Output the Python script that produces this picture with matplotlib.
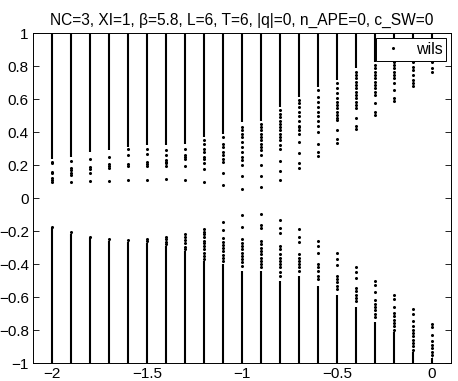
import matplotlib
matplotlib.use("Agg")
import matplotlib.pyplot as plt

plt.rcParams["font.family"] = ["Liberation Sans", "DejaVu Sans"]

# column positions (real part)
xs = [-2.0, -1.9, -1.8, -1.7, -1.6, -1.5, -1.4, -1.3, -1.2, -1.1, -1.0,
      -0.9, -0.8, -0.7, -0.6, -0.5, -0.4, -0.3, -0.2, -0.1, 0.0]

# dense band edges: upper band runs from value up to 1, lower band from -1 up to value
upper_dense = [0.24, 0.25, 0.28, 0.29, 0.31, 0.32, 0.32, 0.33, 0.37, 0.39, 0.46,
               0.47, 0.555, 0.615, 0.675, 0.716, 0.787, 0.827, 0.84, 0.85, 0.86]
lower_dense = [-0.18, -0.215, -0.24, -0.26, -0.265, -0.27, -0.29, -0.32, -0.38, -0.40, -0.44,
               -0.44, -0.50, -0.47, -0.53, -0.59, -0.66, -0.75, -0.81, -0.93, -0.97]

# isolated points per column
upper_sparse = [
    [0.22, 0.21, 0.16, 0.15, 0.12, 0.11, 0.096],
    [0.227, 0.18, 0.17, 0.155, 0.14, 0.10],
    [0.24, 0.19, 0.175, 0.155, 0.106],
    [0.25, 0.205, 0.195, 0.18, 0.106],
    [0.296, 0.26, 0.207, 0.195, 0.11],
    [0.30, 0.266, 0.217, 0.205, 0.195, 0.11],
    [0.29, 0.26, 0.23, 0.22, 0.21, 0.197, 0.116],
    [0.30, 0.26, 0.25, 0.24, 0.195, 0.11],
    [0.35, 0.33, 0.30, 0.28, 0.25, 0.24, 0.21, 0.175, 0.10],
    [0.37, 0.33, 0.31, 0.28, 0.26, 0.24, 0.22, 0.15, 0.08],
    [0.43, 0.41, 0.39, 0.37, 0.34, 0.31, 0.28, 0.25, 0.23, 0.20, 0.137, 0.056],
    [0.45, 0.43, 0.41, 0.39, 0.37, 0.35, 0.33, 0.31, 0.29, 0.26, 0.20, 0.137, 0.066],
    [0.535, 0.51, 0.49, 0.47, 0.45, 0.43, 0.41, 0.39, 0.37, 0.35, 0.32, 0.296, 0.225, 0.167, 0.11],
    [0.595, 0.575, 0.555, 0.52, 0.50, 0.47, 0.44, 0.43, 0.41, 0.39, 0.34, 0.276, 0.215, 0.18],
    [0.655, 0.615, 0.585, 0.555, 0.525, 0.50, 0.47, 0.44, 0.40, 0.33, 0.28, 0.255],
    [0.70, 0.665, 0.635, 0.605, 0.585, 0.565, 0.545, 0.525, 0.505, 0.485, 0.475, 0.41, 0.357, 0.336],
    [0.767, 0.747, 0.727, 0.706, 0.686, 0.666, 0.645, 0.625, 0.605, 0.585, 0.565, 0.545, 0.484, 0.438, 0.418],
    [0.807, 0.787, 0.767, 0.747, 0.727, 0.706, 0.686, 0.666, 0.645, 0.625, 0.575, 0.525, 0.505],
    [0.827, 0.807, 0.787, 0.767, 0.747, 0.727, 0.696, 0.656, 0.605, 0.59],
    [0.827, 0.797, 0.777, 0.747, 0.716, 0.696, 0.68],
    [0.827, 0.787, 0.767],
]
lower_sparse = [
    [-0.173],
    [-0.207],
    [-0.233],
    [-0.247],
    [-0.253],
    [-0.245, -0.257],
    [-0.237, -0.25, -0.265, -0.28],
    [-0.217, -0.233, -0.253, -0.273, -0.294, -0.31],
    [-0.189, -0.205, -0.22, -0.235, -0.26, -0.275, -0.29, -0.31, -0.33, -0.35, -0.37],
    [-0.142, -0.193, -0.243, -0.263, -0.283, -0.303, -0.323, -0.343, -0.36, -0.38],
    [-0.104, -0.173, -0.25, -0.27, -0.29, -0.31, -0.33, -0.35, -0.37, -0.39, -0.41],
    [-0.098, -0.16, -0.18, -0.26, -0.28, -0.30, -0.32, -0.34, -0.36, -0.38, -0.40, -0.42],
    [-0.132, -0.183, -0.213, -0.29, -0.31, -0.34, -0.36, -0.38, -0.40, -0.42, -0.45, -0.47],
    [-0.189, -0.233, -0.263, -0.34, -0.36, -0.38, -0.40, -0.42, -0.44],
    [-0.257, -0.293, -0.33, -0.40, -0.42, -0.44, -0.47, -0.49],
    [-0.334, -0.368, -0.405, -0.47, -0.49, -0.51, -0.53, -0.55],
    [-0.419, -0.445, -0.486, -0.545, -0.565, -0.585, -0.605, -0.625],
    [-0.502, -0.526, -0.57, -0.62, -0.64, -0.66, -0.68, -0.70, -0.72],
    [-0.587, -0.613, -0.657, -0.697, -0.717, -0.737, -0.757, -0.777, -0.797],
    [-0.673, -0.70, -0.742, -0.778, -0.798, -0.818, -0.838, -0.858, -0.878, -0.898, -0.918],
    [-0.762, -0.779, -0.829, -0.864, -0.89, -0.91, -0.93, -0.95],
]

title = "NC=3, XI=1, \u03b2=5.8, L=6, T=6, |q|=0, n_APE=0, c_SW=0"

fig = plt.figure(figsize=(4.58, 3.81), dpi=100)
ax = fig.add_axes([0.072, 0.047, 0.913, 0.866])

ax.vlines(xs, upper_dense, 1.0, colors="black", linewidth=1.5)
ax.vlines(xs, -1.0, lower_dense, colors="black", linewidth=1.5)

px, py = [], []
for x, ups, lows in zip(xs, upper_sparse, lower_sparse):
    for y in ups + lows:
        px.append(x)
        py.append(y)
ax.plot(px, py, linestyle="none", marker="o", markersize=1.2,
        color="black", label="wils")

ax.set_xlim(-2.1, 0.1)
ax.set_ylim(-1, 1)
ax.set_xticks([-2, -1.5, -1, -0.5, 0])
ax.set_xticklabels(["\u22122", "\u22121.5", "\u22121", "\u22120.5", "0"])
yt = [-1, -0.8, -0.6, -0.4, -0.2, 0, 0.2, 0.4, 0.6, 0.8, 1]
ax.set_yticks(yt)
ax.set_yticklabels([("\u2212" if v < 0 else "") + ("%g" % abs(v)) for v in yt])
ax.tick_params(direction="in", length=4, width=0.6, top=True, right=True,
               labelsize=11, pad=3)
for s in ax.spines.values():
    s.set_linewidth(0.7)

ax.set_title(title, fontsize=11.2, pad=6)

leg = ax.legend(loc="upper right", fontsize=11.5, fancybox=False, framealpha=1,
                edgecolor="black", borderaxespad=0.3, handlelength=1.6,
                handletextpad=0.6, borderpad=0.25, markerscale=1.0)
leg.get_frame().set_linewidth(0.7)

fig.savefig("out.png", dpi=100)
